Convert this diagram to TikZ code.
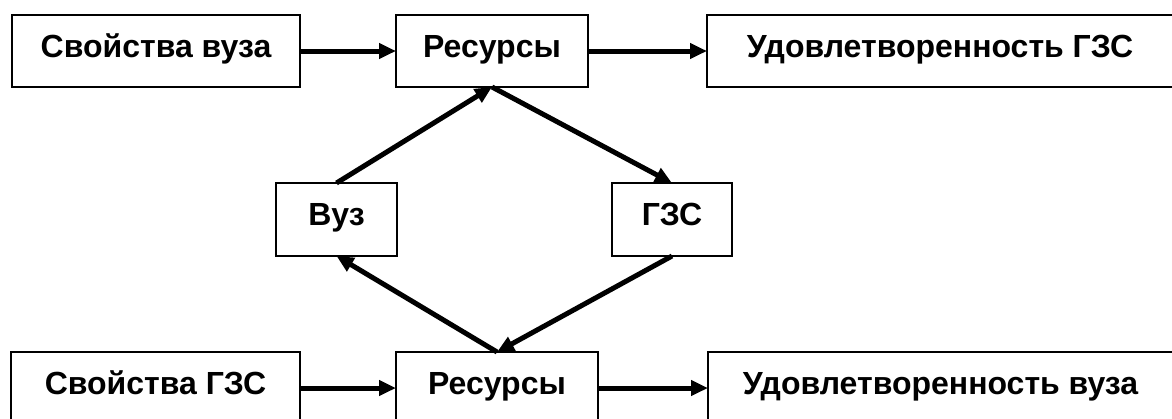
\documentclass[tikz,border=0pt]{standalone}
\usepackage{fontspec}
\setmainfont{Liberation Sans}
\usetikzlibrary{arrows.meta}
\begin{document}
\begin{tikzpicture}[x=0.5pt,y=-0.5pt,
  box/.style={draw, line width=0.6pt, rectangle, outer sep=0pt, inner sep=0pt,
    minimum height=36pt, font=\fontsize{16}{19}\selectfont\bfseries,
    text height=11.5pt, text depth=5.5pt},
  conn/.style={line width=2.5pt, -{Triangle[length=8.5pt,width=7.5pt]}}]
\useasboundingbox (0,0) rectangle (1172,418);
\node[box, minimum width=144pt] (sv1) at (156,51) {Свойства вуза};
\node[box, minimum width=96pt] (r1) at (492,51) {Ресурсы};
\node[box, minimum width=233pt] (u1) at (940,51) {Удовлетворенность ГЗС};
\node[box, minimum width=60.5pt, minimum height=36.5pt] (vuz) at (336.5,219.5) {Вуз};
\node[box, minimum width=60pt, minimum height=36.5pt] (gzs) at (672,219.5) {ГЗС};
\node[box, minimum width=144.5pt] (sv2) at (155.5,388) {Свойства ГЗС};
\node[box, minimum width=101pt] (r2) at (497,388) {Ресурсы};
\node[box, minimum width=232.5pt] (u2) at (940.5,388) {Удовлетворенность вуза};
\draw[conn] (sv1.east) -- (r1.west);
\draw[conn] (r1.east) -- (u1.west);
\draw[conn] (sv2.east) -- (r2.west);
\draw[conn] (r2.east) -- (u2.west);
\draw[conn] (vuz.north) -- (r1.south);
\draw[conn] (r1.south) -- (gzs.north);
\draw[conn] (gzs.south) -- (r2.north);
\draw[conn] (r2.north) -- (vuz.south);
\end{tikzpicture}
\end{document}
